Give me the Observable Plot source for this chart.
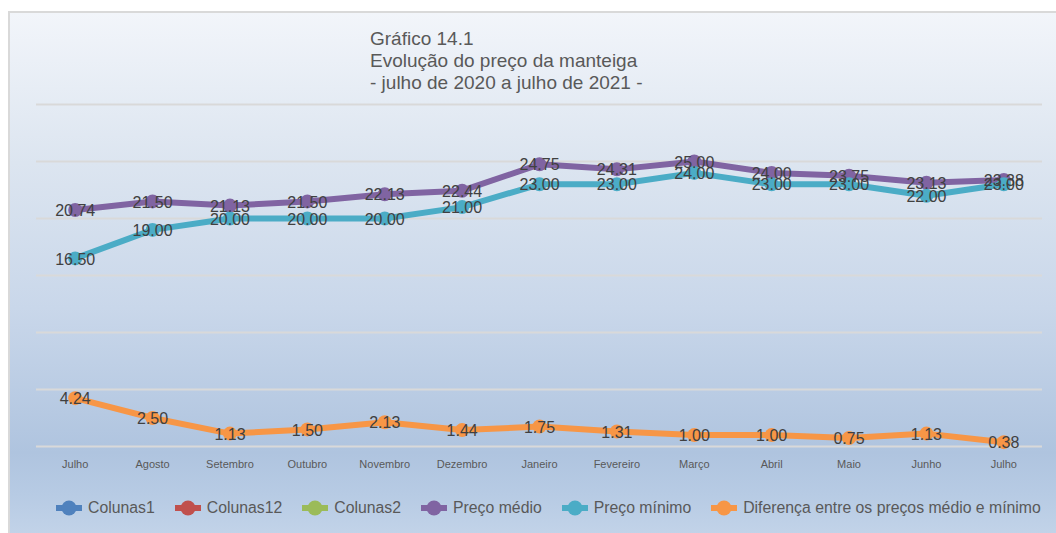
<!DOCTYPE html>
<html>
<head>
<meta charset="utf-8">
<script src="https://cdn.jsdelivr.net/npm/d3@7"></script>
<script src="https://cdn.jsdelivr.net/npm/@observablehq/plot@0.6"></script>
<style>
  html, body { margin: 0; padding: 0; background: #ffffff; }
  body { width: 1056px; height: 533px; overflow: hidden; position: relative; font-family: "Liberation Sans", Arial, sans-serif; }
  #frame {
    position: absolute; left: 8px; top: 11px; width: 1060px; height: 540px;
    border: 2px solid #d9d9d9; box-sizing: border-box;
    background: linear-gradient(to bottom, #f2f5fa 0%, #dce5f0 28%, #c9d7ea 55%, #afc4df 82%, #b7cbe4 90%, #c6d6ea 100%);
  }
  #title {
    position: absolute; left: 370px; top: 28px; font-size: 19px; line-height: 22px; color: #595959;
  }
  #chart { position: absolute; left: 0; top: 0; }
  #legend {
    position: absolute; left: 55px; top: 499px; display: flex; align-items: center;
    font-size: 15.8px; color: #595959; white-space: nowrap;
  }
  .item { display: flex; align-items: center; margin-right: 19px; }
  .item svg { margin-right: 5px; }
</style>
</head>
<body>
<div id="frame"></div>
<div id="title">Gráfico 14.1<br>Evolução do preço da manteiga<br>- julho de 2020 a julho de 2021 -</div>
<div id="chart"></div>
<div id="legend"></div>
<script>
const months = ["Julho","Agosto","Setembro","Outubro","Novembro","Dezembro","Janeiro","Fevereiro","Março","Abril","Maio","Junho","Julho"];
const precoMedio = [20.74, 21.50, 21.13, 21.50, 22.13, 22.44, 24.75, 24.31, 25.00, 24.00, 23.75, 23.13, 23.38];
const precoMinimo = [16.50, 19.00, 20.00, 20.00, 20.00, 21.00, 23.00, 23.00, 24.00, 23.00, 23.00, 22.00, 23.00];
const diferenca = [4.24, 2.50, 1.13, 1.50, 2.13, 1.44, 1.75, 1.31, 1.00, 1.00, 0.75, 1.13, 0.38];
const yGrid = [0, 5, 10, 15, 20, 25, 30];
const legendNames = ["Colunas1", "Colunas12", "Colunas2", "Preço médio", "Preço mínimo", "Diferença entre os preços médio e mínimo"];
const legendColors = ["#4f81bd", "#c0504d", "#9bbb59", "#8064a2", "#4bacc6", "#f79646"];

const series = [
  {name: "Preço médio", values: precoMedio, color: "#8064a2"},
  {name: "Preço mínimo", values: precoMinimo, color: "#4bacc6"},
  {name: "Diferença entre os preços médio e mínimo", values: diferenca, color: "#f79646"}
];
const idx = months.map((m, i) => i);

const marks = [
  Plot.ruleY(yGrid, {stroke: "#d9d9d9", strokeWidth: 2, strokeOpacity: 1})
];
for (const s of series) {
  const data = s.values.map((v, i) => ({i, v}));
  marks.push(Plot.line(data, {x: "i", y: "v", stroke: s.color, strokeWidth: 6, strokeLinejoin: "round"}));
  marks.push(Plot.dot(data, {x: "i", y: "v", r: 7, fill: s.color, stroke: "none"}));
}
for (const s of series) {
  const data = s.values.map((v, i) => ({i, v}));
  marks.push(Plot.text(data, {x: "i", y: "v", text: d => d.v.toFixed(2), fill: "#404040", fontSize: 16, dy: 1}));
}
marks.push(Plot.axisX({tickSize: 0, tickPadding: 14, tickFormat: i => months[i], fontSize: 11, color: "#595959", label: null}));

const chart = Plot.plot({
  width: 1056,
  height: 480,
  marginLeft: 36,
  marginRight: 14,
  marginTop: 104,
  marginBottom: 34,
  style: {background: "transparent", fontFamily: "'Liberation Sans', Arial, sans-serif", overflow: "visible"},
  x: {type: "point", domain: idx, padding: 0.5, round: false, axis: null},
  y: {domain: [0, 30], axis: null},
  marks
});
document.getElementById("chart").appendChild(chart);

const legend = document.getElementById("legend");
legendNames.forEach((n, k) => {
  const item = document.createElement("div");
  item.className = "item";
  item.innerHTML = `<svg width="28" height="16"><line x1="1" x2="27" y1="8" y2="8" stroke="${legendColors[k]}" stroke-width="6"/><circle cx="14" cy="8" r="7.5" fill="${legendColors[k]}"/></svg><span>${n}</span>`;
  legend.appendChild(item);
});
</script>
</body>
</html>
